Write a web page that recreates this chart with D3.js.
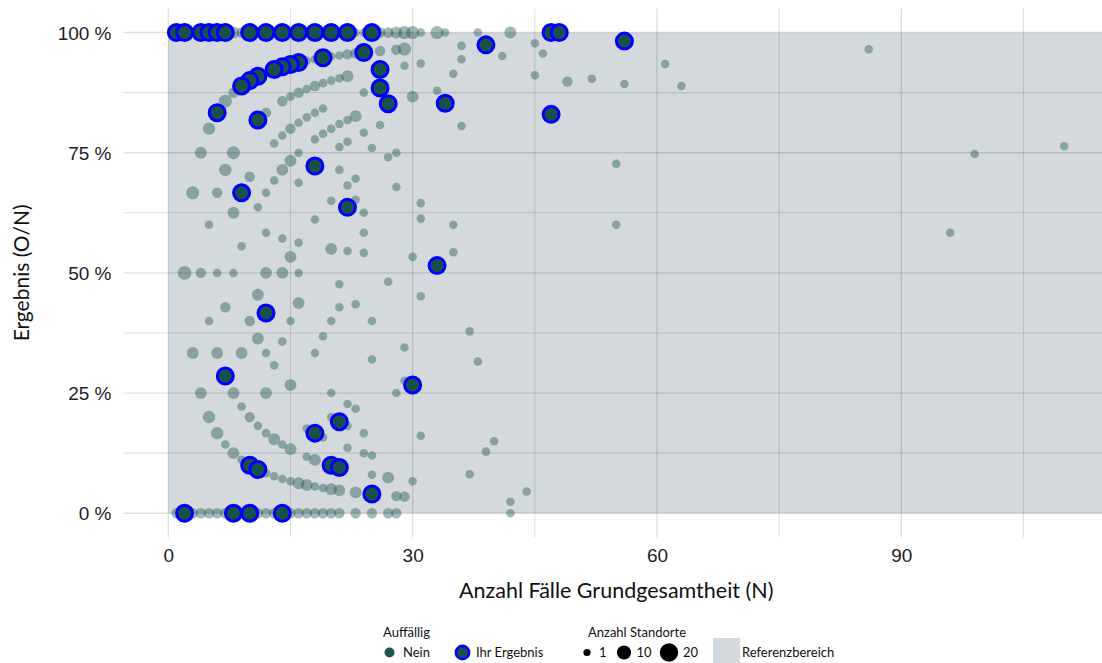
<!DOCTYPE html>
<html>
<head>
<meta charset="utf-8">
<script src="https://cdn.jsdelivr.net/npm/d3@7"></script>
<style>
  html, body { margin: 0; padding: 0; background: #ffffff; }
  svg { display: block; font-family: Lato, "Open Sans", "Liberation Sans", sans-serif; }
</style>
</head>
<body>
<svg id="chart" width="1102" height="663"></svg>
<script>
// Other sites: [N, O, number of sites with this result]
const standorteOben = [
  [3,3,4],[8,8,6],[9,9,4],[11,11,4],[13,13,4],[15,15,4],[17,17,4],[19,19,4],[21,21,2],[23,23,2],[24,24,2],
  [26,26,4],[27,27,4],[28,28,6],[29,29,8],[30,30,8],[31,31,2],[33,33,8],[34,34,2],[38,38,2],[42,42,6]
];
const standorteHoch = [
  [2,1,9],[3,2,8],[4,3,6],[5,4,7],[7,6,8],[8,7,4],[17,16,2],[18,17,2],[20,19,2],[21,20,2],[22,21,4],
  [23,22,4],[26,25,4],[28,27,4],[29,28,8],[36,35,2],[45,44,2],[86,83,2],
  [12,10,4],[14,12,4],[15,13,2],[16,14,4],[17,15,2],[18,16,4],[19,17,2],[20,18,2],[21,19,2],[22,20,6],
  [24,21,2],[29,27,2],[31,29,2],[30,26,6],[33,29,2],[26,21,2],
  [13,10,2],[14,11,2],[15,12,4],[16,13,2],[17,14,2],[18,15,2],[19,16,2],[18,14,2],[19,15,2],[20,16,2],
  [21,17,2],[22,18,2],[23,19,6],[8,6,8],[16,12,2],[21,16,2],[22,17,2],[25,19,2],[24,19,2],[27,20,2],[28,21,2]
];
const standorteMitte = [
  [7,5,7],[10,7,4],[15,11,6],[14,10,6],[13,9,2],[16,11,2],[12,8,2],[6,4,4],[21,15,2],[22,15,2],
  [23,16,2],[28,19,2],[20,13,2],[23,15,2],[24,15,2],[31,20,2],[31,19,2],[11,7,2],[8,5,6],[5,3,2],
  [18,11,2],[24,14,2],[12,7,2],[14,8,2],[16,9,2],[9,5,2],[15,8,6],[20,11,6],[22,12,2],[24,13,2],[30,16,2],
  [4,2,4],[6,3,2],[8,4,2],[12,6,6],[14,7,6],[16,8,2],
  [21,10,2],[27,13,2],[11,5,6],[16,7,6],[21,9,2],[23,10,2],[31,14,2],[7,3,4],[5,2,2],[10,4,4],[15,6,2],
  [20,8,2],[25,10,2],[11,4,6],[14,5,2],[19,7,2],[29,10,2],[3,1,6],[6,2,6],[9,3,6],[12,4,2],[18,6,2],
  [25,8,2],[13,4,2],[4,1,6],[8,2,6],[12,3,6],[15,4,6],[20,5,2],[28,7,2],[29,8,2],[9,2,2],[22,5,2],[23,5,2]
];
const standorteTief = [
  [5,1,7],[10,2,4],[11,2,2],[12,2,2],[6,1,7],[13,2,6],[14,2,2],[15,2,6],[7,1,2],[8,1,6],[9,1,2],
  [12,1,2],[13,1,2],[14,1,2],[15,1,2],[16,1,6],[17,1,6],[18,1,2],[19,1,2],[20,1,6],[21,1,6],[23,1,6],
  [27,2,6],[28,1,4],[29,1,4],[30,2,2],[31,5,2],[17,3,2],[19,3,2],[20,4,2],[22,4,2],[24,4,2],[22,3,2],
  [24,3,2],[25,3,2],[25,2,2],[17,2,2],[18,2,6],
  [1,0,4],[3,0,4],[4,0,4],[5,0,4],[6,0,4],[7,0,4],[9,0,4],[11,0,4],[12,0,4],[13,0,4],[15,0,4],[16,0,4],
  [17,0,4],[18,0,4],[19,0,4],[20,0,4],[21,0,4],[23,0,4],[25,0,4],[27,0,4],[28,0,4]
];
const standorteRechts = [
  [42,0,2],[42,1,2],[44,2,2],[37,3,2],[39,5,2],[40,6,2],[38,12,2],[37,14,2],[55,40,2],[55,33,2],
  [35,21,2],[35,19,2],[36,34,2],[35,32,2],[36,29,2],[41,39,2],[46,44,2],[45,41,2],[49,44,4],[52,47,2],
  [56,50,2],[61,57,2],[63,56,2],[99,74,2],[110,84,2],[96,56,2]
];
// Own results: [N, O]
const ihrErgebnis = [
  [1,1],[2,2],[4,4],[5,5],[6,6],[7,7],[10,10],[12,12],[14,14],[16,16],[18,18],[20,20],[22,22],[25,25],[47,47],[48,48],
  [56,55],[39,38],[24,23],[19,18],[16,15],[15,14],[14,13],[13,12],[11,10],[10,9],[9,8],[6,5],[11,9],[26,24],
  [26,23],[27,23],[34,29],[47,39],[18,13],[9,6],[22,14],[33,17],[12,5],[7,2],[30,8],[21,4],[18,3],
  [10,1],[11,1],[20,2],[21,2],[25,1],[2,0],[8,0],[10,0],[14,0]
];
const xTicks = [0, 30, 60, 90];
const xMinor = [15, 45, 75, 105];
const yTicks = [0, 0.25, 0.5, 0.75, 1];
const yMinor = [0.125, 0.375, 0.625, 0.875];
const referenzbereich = { xFrom: 0, yFrom: 0, yTo: 1 };
const groessenLegende = [1, 10, 20];

const svg = d3.select("#chart");
const panel = { left: 123.5, right: 1109, top: 8.5, bottom: 537.3 };

const x = d3.scaleLinear().domain([-5.5, 115.5]).range([panel.left, panel.right]);
const y = d3.scaleLinear().domain([-0.05, 1.05]).range([panel.bottom, panel.top]);
const r = d3.scalePow().exponent(0.5).domain([1, 20]).range([3.6, 9.2]);

const teal = "#1f5550";
const refFill = "#d4d9dd";

// reference area
svg.append("rect")
  .attr("x", x(referenzbereich.xFrom))
  .attr("y", y(referenzbereich.yTo))
  .attr("width", panel.right - x(referenzbereich.xFrom))
  .attr("height", y(referenzbereich.yFrom) - y(referenzbereich.yTo))
  .attr("fill", refFill);

// grid lines (translucent, so they read darker over the reference area)
const grid = svg.append("g").attr("stroke", "rgba(0,0,0,0.12)");
grid.selectAll("line.h").data(yTicks.concat(yMinor)).join("line")
  .attr("x1", panel.left).attr("x2", panel.right)
  .attr("y1", d => y(d)).attr("y2", d => y(d))
  .attr("stroke-width", d => yTicks.includes(d) ? 1.4 : 1.1);
grid.selectAll("line.v").data(xTicks.concat(xMinor)).join("line")
  .attr("y1", panel.top).attr("y2", panel.bottom)
  .attr("x1", d => x(d)).attr("x2", d => x(d))
  .attr("stroke-width", d => xTicks.includes(d) ? 1.4 : 1.1);

// other sites
const andere = [].concat(standorteOben, standorteHoch, standorteMitte, standorteTief, standorteRechts);
svg.append("g").selectAll("circle").data(andere).join("circle")
  .attr("cx", d => x(d[0]))
  .attr("cy", d => y(d[1] / d[0]))
  .attr("r", d => r(d[2]))
  .attr("fill", teal)
  .attr("fill-opacity", 0.42);

// own results
svg.append("g").selectAll("circle").data(ihrErgebnis).join("circle")
  .attr("cx", d => x(d[0]))
  .attr("cy", d => y(d[1] / d[0]))
  .attr("r", 8)
  .attr("fill", "#1b4f4a")
  .attr("stroke", "#0000ff")
  .attr("stroke-width", 3);

// axes
const xAxis = d3.axisBottom(x).tickValues(xTicks).tickSize(0).tickPadding(0);
const gx = svg.append("g").attr("transform", `translate(0,${panel.bottom + 25})`).call(xAxis);
gx.select(".domain").remove();
gx.selectAll("text").attr("font-size", 19).attr("fill", "#222").attr("font-family", null).attr("dy", null);

const yAxis = d3.axisLeft(y).tickValues(yTicks).tickSize(0).tickPadding(0)
  .tickFormat(d => Math.round(d * 100) + " %");
const gy = svg.append("g").attr("transform", `translate(${panel.left - 12},0)`).call(yAxis);
gy.select(".domain").remove();
gy.selectAll("text").attr("font-size", 19).attr("fill", "#222").attr("font-family", null).attr("dy", "0.35em");

svg.append("text")
  .attr("x", (panel.left + panel.right) / 2).attr("y", 598)
  .attr("text-anchor", "middle").attr("font-size", 21.5).attr("fill", "#111")
  .text("Anzahl Fälle Grundgesamtheit (N)");

svg.append("text")
  .attr("transform", `translate(29,${(panel.top + panel.bottom) / 2}) rotate(-90)`)
  .attr("text-anchor", "middle").attr("font-size", 21).attr("fill", "#111")
  .text("Ergebnis (O/N)");

// legend
const lg = svg.append("g").attr("font-size", 13).attr("fill", "#111");
lg.append("text").attr("x", 383).attr("y", 637).text("Auffällig");
lg.append("circle").attr("cx", 389.5).attr("cy", 652.5).attr("r", 5).attr("fill", teal);
lg.append("text").attr("x", 403).attr("y", 657).text("Nein");
lg.append("circle").attr("cx", 462.5).attr("cy", 652.5).attr("r", 6.6)
  .attr("fill", "#1b4f4a").attr("stroke", "#0000ff").attr("stroke-width", 2.6);
lg.append("text").attr("x", 476).attr("y", 657).text("Ihr Ergebnis");

lg.append("text").attr("x", 588).attr("y", 637).text("Anzahl Standorte");
const sizePos = [587, 624, 669];
groessenLegende.forEach((v, i) => {
  lg.append("circle").attr("cx", sizePos[i]).attr("cy", 652.5).attr("r", r(v)).attr("fill", "#000");
  lg.append("text").attr("x", sizePos[i] + (i === 0 ? 12 : i === 1 ? 12.5 : 14)).attr("y", 657).text(v);
});

lg.append("rect").attr("x", 713).attr("y", 638).attr("width", 27).attr("height", 25).attr("fill", refFill);
lg.append("text").attr("x", 742).attr("y", 657).text("Referenzbereich");
</script>
</body>
</html>
